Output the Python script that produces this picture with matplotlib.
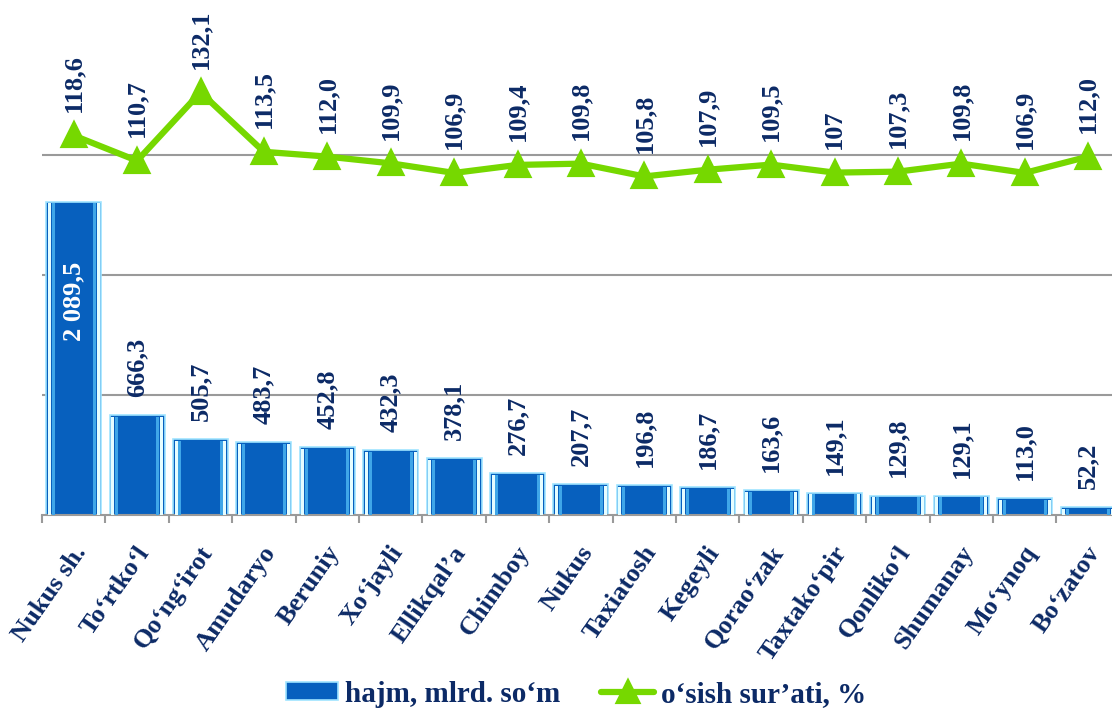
import numpy as np
import matplotlib
matplotlib.use("Agg")
from matplotlib import pyplot as plt
from matplotlib.lines import Line2D
from matplotlib.patches import Patch
import matplotlib.transforms as mtransforms

districts = ["Nukus sh.", "To‘rtko‘l", "Qo‘ng‘irot", "Amudaryo", "Beruniy", "Xo‘jayli",
             "Ellikqal’a", "Chimboy", "Nukus", "Taxiatosh", "Kegeyli", "Qorao‘zak",
             "Taxtako‘pir", "Qonliko‘l", "Shumanay", "Mo‘ynoq", "Bo‘zatov"]
volume = [2089.5, 666.3, 505.7, 483.7, 452.8, 432.3, 378.1, 276.7, 207.7, 196.8,
          186.7, 163.6, 149.1, 129.8, 129.1, 113.0, 52.2]
growth = [118.6, 110.7, 132.1, 113.5, 112.0, 109.9, 106.9, 109.4, 109.8, 105.8,
          107.9, 109.5, 107, 107.3, 109.8, 106.9, 112.0]
growth_labels = ["118,6", "110,7", "132,1", "113,5", "112,0", "109,9", "106,9", "109,4",
                 "109,8", "105,8", "107,9", "109,5", "107", "107,3", "109,8", "106,9", "112,0"]

NAVY = "#0C2A66"
BLUE = "#0760BE"
GREEN = "#76D800"
GRID = "#9A9A9A"
FONT = "Liberation Serif"


def fmt(v):
    return f"{v:,.1f}".replace(",", " ").replace(".", ",")


fig = plt.figure(figsize=(11.12, 7.09), dpi=100)
# axes run slightly past the right edge, like the cut-off original
ax = fig.add_axes([42 / 1112, 194 / 709, 17 * 63.4 / 1112, 480 / 709])
x = np.arange(len(districts))

ax.set_xlim(-0.5, len(districts) - 0.5)
ax.set_ylim(0, 3200)
ax.set_yticks([800, 1600, 2400])
ax.yaxis.grid(True, color=GRID, linewidth=1.5)
ax.set_axisbelow(True)
ax.tick_params(axis="y", length=0, labelleft=False)
for s in ["left", "right", "top"]:
    ax.spines[s].set_visible(False)
ax.spines["bottom"].set_color(GRID)
ax.spines["bottom"].set_linewidth(1.5)

# bars with a rough bevel look
w = 0.87
vol = np.array(volume)
ax.bar(x, vol, width=w, color=BLUE, edgecolor="#9FE4FF", linewidth=1.2, zorder=2)
inner = np.maximum(vol - 12, 0)
for off, sw, col in [(0.05, 0.05, "#E6FDFF"), (0.11, 0.05, "#3FA6E8")]:
    ax.bar(x - w / 2 + off, inner, width=sw, color=col, linewidth=0, zorder=3)
    ax.bar(x + w / 2 - off, inner, width=sw, color=col, linewidth=0, zorder=3)

# x ticks at category boundaries
ax.set_xticks(np.arange(-0.5, len(districts), 1))
ax.tick_params(axis="x", length=6, width=1.5, color=GRID, labelbottom=False)

# category labels
tr = ax.get_xaxis_transform() + mtransforms.ScaledTranslation(0, -24 / 72, fig.dpi_scale_trans)
for i, name in enumerate(districts):
    ax.text(i + 0.12, 0, name, transform=tr, rotation=55, rotation_mode="anchor",
            ha="right", va="center", fontsize=19, fontweight="bold", family=FONT,
            color=NAVY)

# bar value labels
for i, v in enumerate(volume):
    if i == 0:
        ax.annotate(fmt(v), (i, v), xytext=(0, -43), textcoords="offset points",
                    rotation=90, ha="center", va="top", fontsize=19, fontweight="bold",
                    family=FONT, color="white", zorder=5)
    else:
        ax.annotate(fmt(v), (i, v), xytext=(0, 13), textcoords="offset points",
                    rotation=90, ha="center", va="bottom", fontsize=19, fontweight="bold",
                    family=FONT, color=NAVY, zorder=5)

# growth line on secondary axis
ax2 = ax.twinx()
ax2.set_ylim(0, 150)
ax2.axis("off")
ax2.plot(x, growth, color=GREEN, linewidth=4.5, marker="^", markersize=16,
         markeredgewidth=3, markeredgecolor=GREEN, solid_joinstyle="round",
         solid_capstyle="round", zorder=4)
for i, (g, lab) in enumerate(zip(growth, growth_labels)):
    ax2.annotate(lab, (i, g), xytext=(0, 17), textcoords="offset points",
                 rotation=90, ha="center", va="bottom", fontsize=19, fontweight="bold",
                 family=FONT, color=NAVY)

handles = [
    Patch(facecolor=BLUE, edgecolor="#9FE4FF", linewidth=1.2),
    Line2D([], [], color=GREEN, linewidth=4.5, marker="^", markersize=15,
           markeredgewidth=3, solid_capstyle="round"),
]
fig.legend(handles, ["hajm, mlrd. so‘m", "o‘sish sur’ati, %"], loc="lower center",
           bbox_to_anchor=(0.518, -0.035), ncol=2, frameon=False, handlelength=1.8,
           handleheight=0.55, columnspacing=1.4, handletextpad=0.25,
           prop={"family": FONT, "weight": "bold", "size": 21}, labelcolor=NAVY)

fig.savefig("out.png", dpi=100)
